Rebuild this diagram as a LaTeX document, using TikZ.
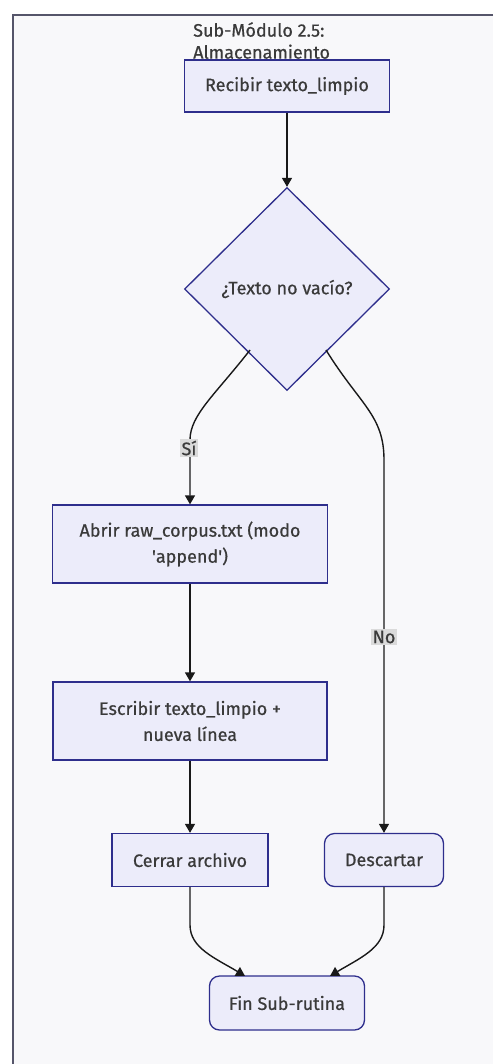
\documentclass[tikz,border=0pt]{standalone}
\usepackage{fontspec}
\setmainfont{Fira Sans}[FakeBold=0.6]
\usetikzlibrary{shapes.geometric,arrows.meta}
\definecolor{nodefill}{HTML}{ECECFA}
\definecolor{nodeline}{HTML}{2E2E8C}
\definecolor{txt}{HTML}{3A3A3A}
\definecolor{bg}{HTML}{F8F8FA}
\definecolor{frame}{HTML}{55556A}
\definecolor{lblbg}{HTML}{DADADA}
\tikzset{
  x=1pt,y=-1pt,
  every node/.style={font=\fontsize{18}{26}\selectfont, text=txt},
  procbox/.style={draw=nodeline, fill=nodefill, line width=1.3pt, align=center, inner sep=0pt},
  roundbox/.style={procbox, rounded corners=10pt},
  decision/.style={draw=nodeline, fill=nodefill, line width=1.3pt, diamond, aspect=1, inner sep=0pt, minimum width=205pt, minimum height=203pt},
  conn/.style={draw=black!90, line width=1.4pt, -{Triangle[length=9pt,width=10pt]}},
  edgelbl/.style={fill=lblbg, inner sep=2pt, font=\fontsize{18}{20}\selectfont}
}
\begin{document}
\begin{tikzpicture}
\useasboundingbox (0,0) rectangle (493,1064);
\fill[white] (0,0) rectangle (493,1064);
\fill[bg] (13,15) rectangle (493,1064);
\draw[frame, line width=1.5pt] (493,15) -- (13,15) -- (13,1064);

\node[anchor=north west, align=left, inner sep=0pt, font=\fontsize{18}{22}\selectfont] (title) at (193,22) {Sub-Módulo 2.5:\\Almacenamiento};

\node[procbox, minimum width=205pt, minimum height=52pt] (recv) at (287,86) {Recibir texto\_limpio};
\node[decision] (dec) at (287,289) {¿Texto no vacío?};
\node[procbox, minimum width=275pt, minimum height=78pt] (open) at (190,544) {Abrir raw\_corpus.txt (modo\\\textquotesingle append\textquotesingle)};
\node[procbox, minimum width=274pt, minimum height=78pt] (write) at (190,721) {Escribir texto\_limpio +\\nueva línea};
\node[procbox, minimum width=156pt, minimum height=53pt] (close) at (190,860) {Cerrar archivo};
\node[roundbox, minimum width=119pt, minimum height=53pt] (disc) at (384,860) {Descartar};
\node[roundbox, minimum width=155pt, minimum height=54pt] (fin) at (287,1003) {Fin Sub-rutina};

\coordinate (sl) at (250,350);
\coordinate (sr) at (326,350);

\draw[conn] (recv.south) -- (dec.north);
\draw[conn] (sl) .. controls (215,395) and (190,415) .. (190,440) -- (open.north);
\draw[conn] (sr) .. controls (360,405) and (384,415) .. (384,460) -- (disc.north);
\draw[conn] (open.south) -- (write.north);
\draw[conn] (write.south) -- (close.north);
\draw[conn] (close.south) -- (190,925) .. controls (190,948) and (215,958) .. (245,976);
\draw[conn] (disc.south) -- (384,925) .. controls (384,948) and (360,958) .. (330,976);

\node[edgelbl] (si) at (189,448) {Sí};
\node[edgelbl] (no) at (384,637) {No};
\end{tikzpicture}
\end{document}
